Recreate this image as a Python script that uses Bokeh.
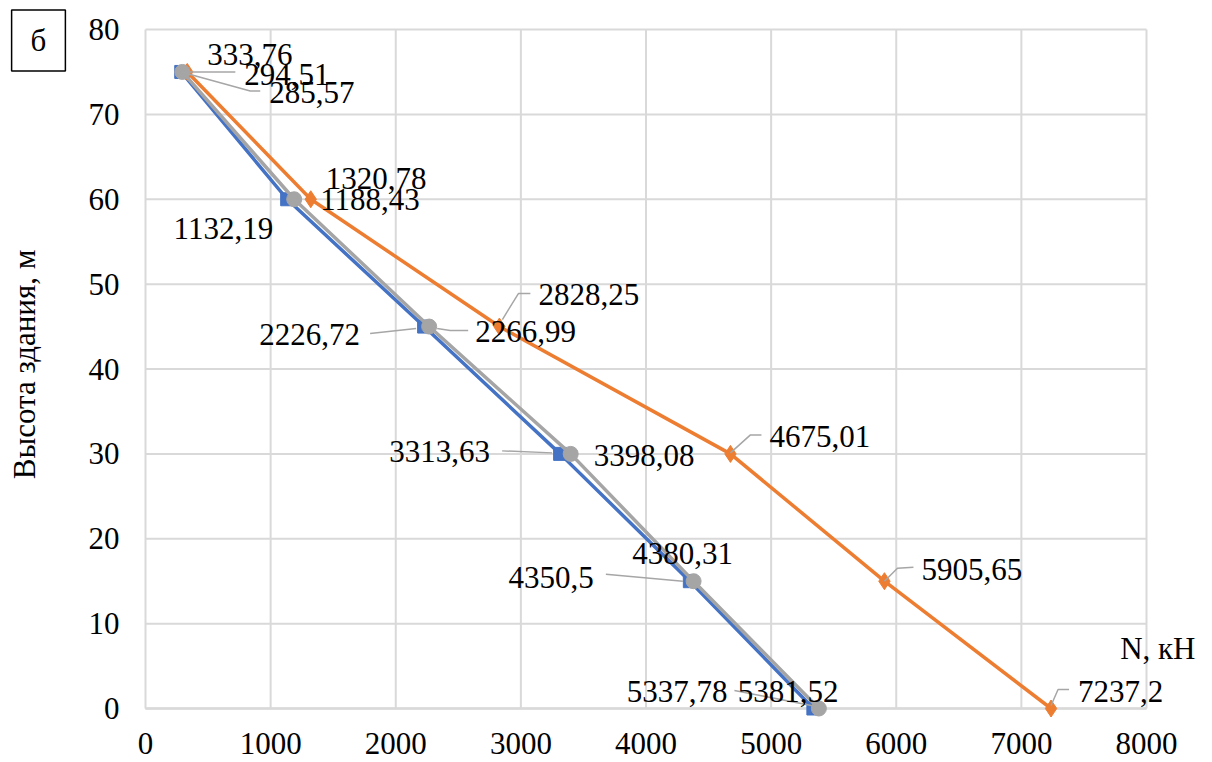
import math
from bokeh.plotting import figure
from bokeh.models import Range1d, FixedTicker, ColumnDataSource, LabelSet, Label
from bokeh.embed import file_html
from bokeh.resources import INLINE
from bokeh.core.properties import field

# ---------------- data ----------------
heights = [75, 60, 45, 30, 15, 0]
n_blue = [285.57, 1132.19, 2226.72, 3313.63, 4350.5, 5337.78]
n_orange = [333.76, 1320.78, 2828.25, 4675.01, 5905.65, 7237.2]
n_gray = [294.51, 1188.43, 2266.99, 3398.08, 4380.31, 5381.52]
x_ticks = [0, 1000, 2000, 3000, 4000, 5000, 6000, 7000, 8000]
y_ticks = [0, 10, 20, 30, 40, 50, 60, 70, 80]
x_title = "N, кН"
y_title = "Высота здания, м"
panel_tag = "б"

# ---------------- styles / placement ----------------
FONT = "Liberation Serif"
FS = "31px"
BLUE, ORANGE, GRAY = "#4472C4", "#ED7D31", "#A5A5A5"
LEADER = "#A6A6A6"
GRID = "#D9D9D9"
W, H = 1212, 762
# pixel position of the plotting area (x: 0..8000, y: 0..80)
PX0, PX1, PY0, PY1 = 145, 1146, 708, 29
XA, XB = x_ticks[0], x_ticks[-1]
YA, YB = y_ticks[0], y_ticks[-1]
SX = (XB - XA) / (PX1 - PX0)   # data units per pixel
SY = (YB - YA) / (PY0 - PY1)
x_range = Range1d(XA - PX0 * SX, XB + (W - PX1) * SX)
y_range = Range1d(YA - (H - PY0) * SY, YB + PY1 * SY)

# label placement in pixels (align, dx, dy) with dy measured downward
lab_blue = [("left", 88, 21), ("right", -14, 29), ("right", -64, 8),
            ("right", -70, -2), ("right", -96, -4), ("right", -86, -17)]
lab_gray = [("left", 62, 3), ("left", 26, 0), ("left", 46, 5),
            ("left", 23, 2), ("center", -11, -28), ("left", -81, -17)]
lab_orange = [("left", 20, -17), ("left", 15, -21), ("left", 39, -32),
              ("left", 39, -17), ("left", 37, -12), ("left", 27, -17)]

# leader lines: pixel offsets from the point (dy downward)
lead_blue = {0: [(0, 0), (69, 19), (79, 19)],
             2: [(-8, 2), (-54, 7)],
             3: [(-8, -1), (-58, -3)],
             4: [(-7, 0), (-84, -7)],
             5: [(3, -2), (-79, -18)]}
lead_gray = {0: [(4, 0), (53, 0)],
             2: [(8, 2), (21, 4), (39, 4)]}
lead_orange = {2: [(3, -7), (19, -33), (31, -33)],
               3: [(0, -1), (20, -19), (31, -19)],
               4: [(0, 0), (13, -13), (29, -14)],
               5: [(0, -3), (7, -19), (18, -19)]}

p = figure(width=W, height=H, output_backend="svg", toolbar_location=None,
           x_range=x_range, y_range=y_range,
           min_border_left=0, min_border_right=0, min_border_top=0,
           min_border_bottom=0)
p.outline_line_color = None
p.background_fill_color = "white"
p.border_fill_color = "white"
p.xgrid.visible = False
p.ygrid.visible = False

for ax, ticks in ((p.xaxis, x_ticks), (p.yaxis, y_ticks)):
    ax.ticker = FixedTicker(ticks=ticks)
    ax.fixed_location = 0
    ax.bounds = (ticks[0], ticks[-1])
    ax.major_tick_line_color = None
    ax.minor_tick_line_color = None
    ax.major_tick_out = 0
    ax.major_tick_in = 0
    ax.minor_tick_out = 0
    ax.major_label_text_font = FONT
    ax.major_label_text_font_size = FS
    ax.major_label_text_color = "black"
    ax.level = "underlay"
p.xaxis.axis_line_color = "#C8C8C8"
p.xaxis.axis_line_width = 2
p.yaxis.axis_line_color = None
p.xaxis.major_label_standoff = 24
p.yaxis.major_label_standoff = 26

# grid of the plotting area, from the tick lists
p.segment(x0=x_ticks, x1=x_ticks, y0=[YA] * len(x_ticks), y1=[YB] * len(x_ticks),
          line_color=GRID, line_width=2)
p.segment(x0=[XA] * len(y_ticks), x1=[XB] * len(y_ticks), y0=y_ticks, y1=y_ticks,
          line_color=GRID, line_width=2)

series = [
    (n_blue, BLUE, "square", 13, lab_blue, lead_blue),
    (n_orange, ORANGE, "diamond", 17, lab_orange, lead_orange),
    (n_gray, GRAY, "circle", 15, lab_gray, lead_gray),
]

for xs, col, mk, sz, _, _ in series:
    p.line(xs, heights, line_color=col, line_width=3.5)
    p.scatter(xs, heights, marker=mk, size=sz, fill_color=col, line_color=col)

# leader lines
lx, ly = [], []
for xs, col, mk, sz, labs, leads in series:
    for i, pts in leads.items():
        lx.append([xs[i] + dx * SX for dx, dy in pts])
        ly.append([heights[i] - dy * SY for dx, dy in pts])
p.multi_line(lx, ly, line_color=LEADER, line_width=1.5)

# data labels
for xs, col, mk, sz, labs, leads in series:
    src = ColumnDataSource(dict(
        x=xs, y=heights,
        t=[str(v).replace(".", ",") for v in xs],
        al=[a for a, dx, dy in labs],
        dx=[dx for a, dx, dy in labs],
        dy=[-dy for a, dx, dy in labs],
    ))
    p.add_layout(LabelSet(x="x", y="y", text="t", source=src,
                          x_offset="dx", y_offset="dy",
                          text_align=field("al"), text_baseline="middle",
                          text_font=FONT, text_font_size=FS,
                          text_color="black"))

# axis titles (screen units from the bottom-left corner)
p.add_layout(Label(x=1195, y=H - 648, x_units="screen", y_units="screen",
                   text=x_title, text_align="right", text_baseline="middle",
                   text_font=FONT, text_font_size=FS, text_color="black"))
p.add_layout(Label(x=24, y=H - 364, x_units="screen", y_units="screen",
                   text=y_title, angle=math.pi / 2, text_align="center",
                   text_baseline="middle",
                   text_font=FONT, text_font_size=FS, text_color="black"))

# panel tag in a box
tag_kw = dict(x=38, y=H - 40, x_units="screen", y_units="screen",
              text=panel_tag, text_align="center", text_baseline="middle",
              text_font=FONT, text_font_size=FS, text_color="black",
              border_line_color="black", border_line_width=1.5,
              background_fill_color="white")
try:
    tag = Label(padding=(19, 19, 13, 13), **tag_kw)
except Exception:
    tag = Label(**tag_kw)
p.add_layout(tag)

open("out.html", "w").write(file_html(p, INLINE))
